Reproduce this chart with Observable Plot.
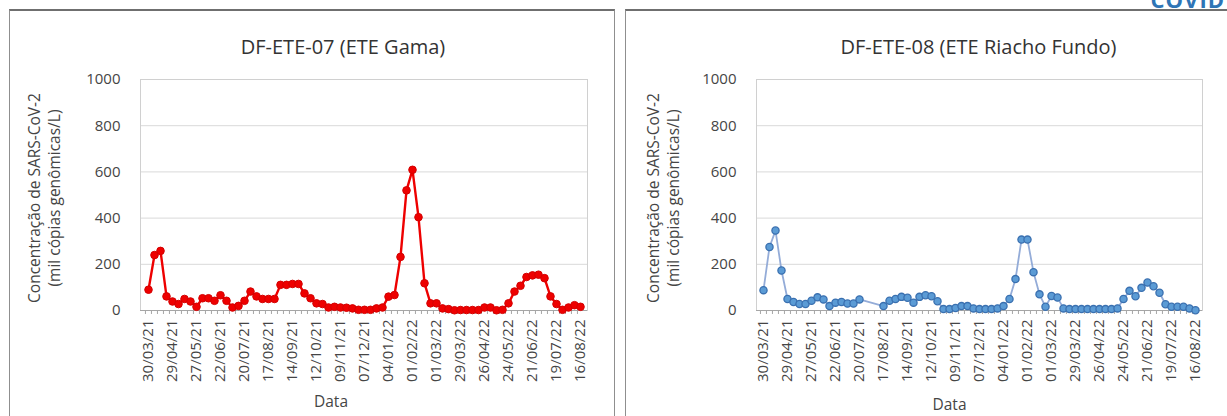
<!DOCTYPE html>
<html>
<head>
<meta charset="utf-8">
<script src="https://cdn.jsdelivr.net/npm/d3@7"></script>
<script src="https://cdn.jsdelivr.net/npm/@observablehq/plot@0.6"></script>
<style>
  body { margin: 0; background: #fff; }
  #page { position: relative; width: 1227px; height: 416px; overflow: hidden; background: #fff; font-family: 'Open Sans', sans-serif; }
  .panel { position: absolute; top: 9px; height: 430px; border: 1px solid #8f8f8f; border-top: 2px solid #6f6f6f; box-sizing: border-box; }
  .chart { position: absolute; top: 10px; }
  #logo { position: absolute; right: 2px; top: -16px; font: bold 22px 'Open Sans', sans-serif; color: #2e75b6; letter-spacing: 1px; }
</style>
</head>
<body>
<div id="page">
  <div class="panel" style="left:9px; width:606px;"></div>
  <div class="panel" style="left:625px; width:620px;"></div>
  <div id="logo">COVID</div>
  <div class="chart" id="c1" style="left:10px;"></div>
  <div class="chart" id="c2" style="left:625px;"></div>
</div>
<script>
const dates = [
  "30/03/21","06/04/21","13/04/21","20/04/21","29/04/21","04/05/21","11/05/21","18/05/21",
  "27/05/21","01/06/21","08/06/21","15/06/21","22/06/21","29/06/21","06/07/21","13/07/21",
  "20/07/21","27/07/21","03/08/21","10/08/21","17/08/21","24/08/21","31/08/21","07/09/21",
  "14/09/21","21/09/21","28/09/21","05/10/21","12/10/21","19/10/21","26/10/21","02/11/21",
  "09/11/21","16/11/21","23/11/21","30/11/21","07/12/21","14/12/21","21/12/21","28/12/21",
  "04/01/22","11/01/22","18/01/22","25/01/22","01/02/22","08/02/22","15/02/22","22/02/22",
  "01/03/22","08/03/22","15/03/22","22/03/22","29/03/22","05/04/22","12/04/22","19/04/22",
  "26/04/22","03/05/22","10/05/22","17/05/22","24/05/22","31/05/22","07/06/22","14/06/22",
  "21/06/22","28/06/22","05/07/22","12/07/22","19/07/22","26/07/22","02/08/22","09/08/22",
  "16/08/22"
];
const labelDates = [
  "30/03/21","29/04/21","27/05/21","22/06/21","20/07/21","17/08/21","14/09/21","12/10/21",
  "09/11/21","07/12/21","04/01/22","01/02/22","01/03/22","29/03/22","26/04/22","24/05/22",
  "21/06/22","19/07/22","16/08/22"
];
const yTicks = [0, 200, 400, 600, 800, 1000];

// DF-ETE-07 (ETE Gama)
const gamaValues = [
  90, 240, 258, 61, 39, 28, 50, 39,
  16, 53, 53, 42, 66, 42, 13, 20,
  42, 82, 61, 50, 50, 50, 111, 111,
  115, 115, 74, 53, 31, 28, 13, 16,
  13, 12, 9, 3, 3, 3, 9, 13,
  60, 67, 232, 520, 609, 404, 118, 31,
  31, 9, 6, 1, 2, 2, 2, 2,
  13, 13, 1, 3, 31, 82, 107, 145,
  152, 155, 140, 61, 28, 3, 13, 23,
  16
];
// DF-ETE-08 (ETE Riacho Fundo)
const riachoValues = [
  88, 275, 346, 173, 50, 37, 28, 28,
  42, 57, 48, 19, 34, 37, 30, 30,
  48, null, null, null, 19, 42, 50, 59,
  55, 34, 59, 66, 62, 40, 6, 6,
  11, 19, 19, 9, 6, 6, 6, 9,
  19, 50, 136, 307, 307, 166, 70, 16,
  63, 56, 9, 6, 6, 6, 6, 6,
  6, 6, 6, 9, 50, 85, 62, 98,
  121, 105, 77, 27, 16, 16, 16, 9,
  1
];

const yLabel = "Concentração de SARS-CoV-2\n(mil cópias genômicas/L)";
const textColor = "#454545";

function chart({values, title, marginLeft, titleDx, yLabelDx, dataDx, dataDy, line, dot}) {
  const width = 602, height = 406, marginRight = 25, marginTop = 69, marginBottom = 106;
  const step = (width - marginLeft - marginRight) / dates.length;
  const data = dates.map((d, i) => ({date: d, value: values[i]})).filter(d => d.value != null);
  return Plot.plot({
    width, height, marginLeft, marginRight, marginTop, marginBottom,
    style: {fontFamily: "'Open Sans', sans-serif", fontSize: "15px", color: textColor, background: "transparent", overflow: "visible"},
    x: {type: "point", domain: dates, padding: 0.5, axis: null},
    y: {domain: [0, 1000], axis: null},
    marks: [
      Plot.gridY(yTicks, {stroke: "#d9d9d9", strokeOpacity: 1}),
      Plot.frame({stroke: "#d0d0d0"}),
      Plot.axisY(yTicks, {tickSize: 0, tickPadding: 20, fontSize: 15, fill: textColor, label: null, tickFormat: d => String(d)}),
      Plot.axisX(dates, {tickSize: 4, tickFormat: () => "", dx: -step / 2, stroke: "#a6a6a6", label: null}),
      Plot.ruleY([0], {stroke: "#a6a6a6"}),
      Plot.axisX(labelDates, {tickSize: 0, tickRotate: -90, tickPadding: 9, fontSize: 15, fill: textColor, label: null}),
      Plot.line(data, {x: "date", y: "value", ...line}),
      Plot.dot(data, {x: "date", y: "value", ...dot}),
      Plot.text([title], {frameAnchor: "top", lineAnchor: "middle", textAnchor: "middle", dy: -32, dx: titleDx, fontSize: 20, fill: "#333333"}),
      Plot.text([yLabel], {frameAnchor: "left", lineAnchor: "middle", textAnchor: "middle", rotate: -90, dx: yLabelDx, dy: 3, fontSize: 15.5, lineHeight: 1.3, fill: textColor}),
      Plot.text(["Data"], {frameAnchor: "bottom", lineAnchor: "middle", textAnchor: "middle", dx: dataDx, dy: dataDy, fontSize: 15.5, fill: textColor})
    ]
  });
}

document.getElementById("c1").append(chart({
  values: gamaValues, title: "DF-ETE-07 (ETE Gama)", marginLeft: 130,
  titleDx: -21, yLabelDx: -97, dataDx: -33, dataDy: 92,
  line: {stroke: "#ee0000", strokeWidth: 2.4},
  dot: {r: 3.8, fill: "#ee0000", stroke: "#d40000", strokeWidth: 1}
}));
document.getElementById("c2").append(chart({
  values: riachoValues, title: "DF-ETE-08 (ETE Riacho Fundo)", marginLeft: 131,
  titleDx: -1, yLabelDx: -94, dataDx: -30, dataDy: 95,
  line: {stroke: "#94acd8", strokeWidth: 1.8},
  dot: {r: 3.6, fill: "#5b9bd5", stroke: "#3a70b0", strokeWidth: 1.3}
}));
</script>
</body>
</html>
